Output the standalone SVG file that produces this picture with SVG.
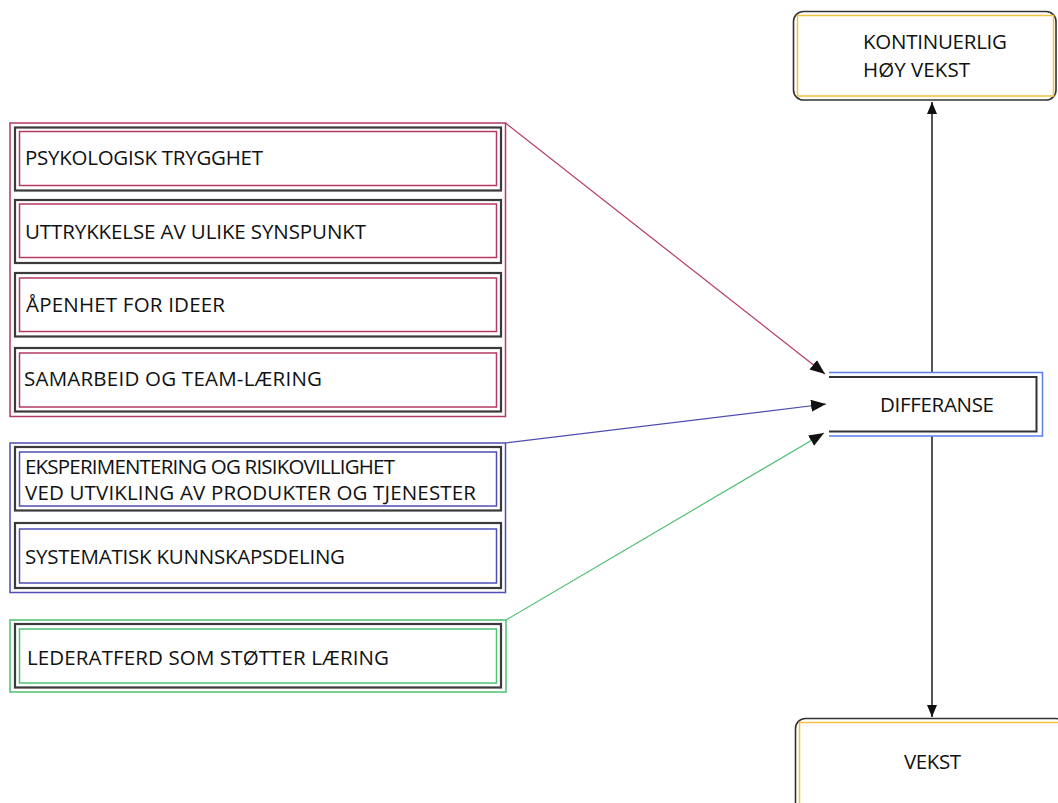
<svg xmlns="http://www.w3.org/2000/svg" width="1058" height="803" viewBox="0 0 1058 803">
  <style>
    .lbl { font-family: "Open Sans", "Liberation Sans", sans-serif; font-size: 20.5px; fill: #111; }
    .frame { fill: none; stroke-width: 1.5; }
    .dark { fill: none; stroke: #3a3a3a; stroke-width: 2.2; }
    .inner { fill: #fff; stroke-width: 1.5; }
    .red { stroke: #b43a62; }
    .blue { stroke: #4d4db3; }
    .green { stroke: #4fc172; }
    .yellow { stroke: #f4c23f; }
    .conn { fill: none; stroke-width: 1.2; }
    .axis { fill: none; stroke: #555; stroke-width: 2; }
  </style>
  <defs>
    <marker id="head" markerUnits="userSpaceOnUse" markerWidth="16" markerHeight="14" refX="15" refY="6" orient="auto">
      <path d="M0,0 L15,6 L0,12 z" fill="#111"/>
    </marker>
    <marker id="headAxis" markerUnits="userSpaceOnUse" markerWidth="14" markerHeight="12" refX="12" refY="5" orient="auto">
      <path d="M0,0 L12,5 L0,10 z" fill="#111"/>
    </marker>
  </defs>
  <rect width="1058" height="803" fill="#fff"/>

  <!-- connectors -->
  <g id="connectors">
    <line class="conn" x1="505.5" y1="123" x2="825" y2="374" stroke="#b43a62" marker-end="url(#head)"/>
    <line class="conn" x1="505.5" y1="443" x2="826" y2="404" stroke="#4d4db3" marker-end="url(#head)"/>
    <line class="conn" x1="506" y1="620" x2="824" y2="433" stroke="#4fc172" marker-end="url(#head)"/>
    <line class="axis" x1="932" y1="373" x2="932" y2="102" marker-end="url(#headAxis)"/>
    <line class="axis" x1="932" y1="436" x2="932" y2="717" marker-end="url(#headAxis)"/>
  </g>

  <!-- group frames -->
  <g id="frame-culture">
    <rect class="frame red" x="10" y="123" width="495.5" height="293.5"/>
  </g>
  <g id="frame-processes">
    <rect class="frame blue" x="10" y="443" width="495.5" height="149.5"/>
  </g>
  <g id="frame-leadership">
    <rect class="frame green" x="10" y="620" width="496" height="72"/>
  </g>

  <!-- factor nodes -->
  <g id="node-trygghet">
    <rect class="dark" x="15" y="127.5" width="486" height="63"/>
    <rect class="inner red" x="19.5" y="131.5" width="477" height="54"/>
    <text class="lbl" x="25" y="165" textLength="238">PSYKOLOGISK TRYGGHET</text>
  </g>
  <g id="node-synspunkt">
    <rect class="dark" x="15" y="200" width="486" height="63"/>
    <rect class="inner red" x="19.5" y="204" width="477" height="53.5"/>
    <text class="lbl" x="25" y="239" textLength="341">UTTRYKKELSE AV ULIKE SYNSPUNKT</text>
  </g>
  <g id="node-apenhet">
    <rect class="dark" x="15" y="273" width="486" height="63.5"/>
    <rect class="inner red" x="19.5" y="278" width="477" height="53.5"/>
    <text class="lbl" x="26" y="312" textLength="199">ÅPENHET FOR IDEER</text>
  </g>
  <g id="node-samarbeid">
    <rect class="dark" x="15" y="348" width="486" height="63.5"/>
    <rect class="inner red" x="19.5" y="353" width="477" height="54"/>
    <text class="lbl" x="24" y="386" textLength="298">SAMARBEID OG TEAM-LÆRING</text>
  </g>
  <g id="node-eksperimentering">
    <rect class="dark" x="15" y="447" width="486" height="63.5"/>
    <rect class="inner blue" x="19.5" y="452" width="477" height="54"/>
    <text class="lbl" x="25" y="474" textLength="370">EKSPERIMENTERING OG RISIKOVILLIGHET</text>
    <text class="lbl" x="25" y="500" textLength="451">VED UTVIKLING AV PRODUKTER OG TJENESTER</text>
  </g>
  <g id="node-kunnskapsdeling">
    <rect class="dark" x="15" y="523" width="486" height="65"/>
    <rect class="inner blue" x="19.5" y="529" width="477" height="54"/>
    <text class="lbl" x="25" y="564" textLength="320">SYSTEMATISK KUNNSKAPSDELING</text>
  </g>
  <g id="node-lederatferd">
    <rect class="dark" x="15" y="624" width="486" height="63.5"/>
    <rect class="inner green" x="19.5" y="629" width="477" height="54"/>
    <text class="lbl" x="27" y="665" textLength="362">LEDERATFERD SOM STØTTER LÆRING</text>
  </g>

  <!-- outcome nodes -->
  <g id="node-differanse">
    <rect x="829" y="372.5" width="213.5" height="63.5" fill="#fff"/>
    <path d="M829,372.5 H1042.5 V436 H829" fill="none" stroke="#5b7fe6" stroke-width="1.5"/>
    <path d="M829,377 H1036.5 V431.5 H829" fill="none" stroke="#333" stroke-width="2"/>
    <text class="lbl" x="880" y="412" textLength="114">DIFFERANSE</text>
  </g>
  <g id="node-kontinuerlig">
    <rect x="793.5" y="11.5" width="262.5" height="88.5" rx="10" fill="#fff" stroke="#333" stroke-width="1.6"/>
    <rect class="yellow" x="797.5" y="15.5" width="256" height="80.5" fill="none" stroke-width="1.5"/>
    <text class="lbl" x="863" y="49" textLength="144">KONTINUERLIG</text>
    <text class="lbl" x="863" y="77" textLength="107">HØY VEKST</text>
  </g>
  <g id="node-vekst">
    <rect x="795.5" y="718.5" width="270" height="100" rx="10" fill="#fff" stroke="#333" stroke-width="1.6"/>
    <rect class="yellow" x="799.5" y="722.5" width="262" height="90" fill="none" stroke-width="1.5"/>
    <text class="lbl" x="904" y="769" textLength="57">VEKST</text>
  </g>
</svg>
